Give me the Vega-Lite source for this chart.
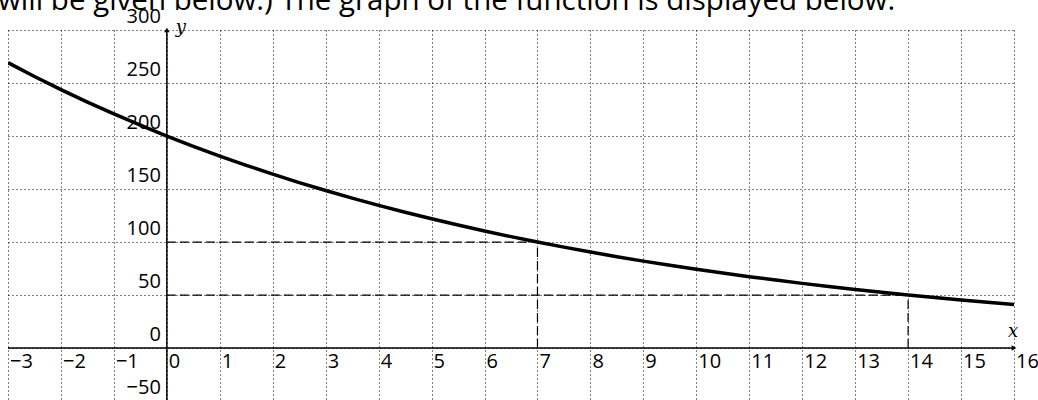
{
  "$schema": "https://vega.github.io/schema/vega-lite/v6.json",
  "width": 1006,
  "height": 370,
  "autosize": {"type": "none"},
  "padding": {"left": 8, "top": 30, "right": 24, "bottom": 0},
  "background": "white",
  "config": {"view": {"stroke": null}},
  "title": {
    "text": "will be given below.) The graph of the function is displayed below.",
    "anchor": "start",
    "frame": "group",
    "orient": "top",
    "baseline": "alphabetic",
    "offset": 0,
    "dx": -10,
    "dy": 32,
    "font": "Open Sans",
    "fontSize": 29.5,
    "fontWeight": "normal",
    "color": "#000"
  },
  "datasets": {
    "curve": [
      {"x": -3, "y": 269.2}, {"x": -2.5, "y": 256.2}, {"x": -2, "y": 243.8}, {"x": -1.5, "y": 232.0},
      {"x": -1, "y": 220.8}, {"x": -0.5, "y": 210.2}, {"x": 0, "y": 200}, {"x": 0.5, "y": 190.3},
      {"x": 1, "y": 181.1}, {"x": 1.5, "y": 172.4}, {"x": 2, "y": 164.1}, {"x": 2.5, "y": 156.1},
      {"x": 3, "y": 148.6}, {"x": 3.5, "y": 141.4}, {"x": 4, "y": 134.6}, {"x": 4.5, "y": 128.1},
      {"x": 5, "y": 121.9}, {"x": 5.5, "y": 116.0}, {"x": 6, "y": 110.4}, {"x": 6.5, "y": 105.1},
      {"x": 7, "y": 100}, {"x": 7.5, "y": 95.2}, {"x": 8, "y": 90.6}, {"x": 8.5, "y": 86.2},
      {"x": 9, "y": 82.0}, {"x": 9.5, "y": 78.1}, {"x": 10, "y": 74.3}, {"x": 10.5, "y": 70.7},
      {"x": 11, "y": 67.3}, {"x": 11.5, "y": 64.1}, {"x": 12, "y": 61.0}, {"x": 12.5, "y": 58.0},
      {"x": 13, "y": 55.2}, {"x": 13.5, "y": 52.6}, {"x": 14, "y": 50}, {"x": 14.5, "y": 47.6},
      {"x": 15, "y": 45.3}, {"x": 15.5, "y": 43.1}, {"x": 16, "y": 41.0}
    ],
    "dashes": [
      {"x1": 0, "x2": 7, "y1": 100, "y2": 100},
      {"x1": 7, "x2": 7, "y1": 0, "y2": 100},
      {"x1": 0, "x2": 14, "y1": 50, "y2": 50},
      {"x1": 14, "x2": 14, "y1": 0, "y2": 50}
    ],
    "axes": [
      {"x1": -3, "x2": 16, "y1": 0, "y2": 0},
      {"x1": 0, "x2": 0, "y1": -49, "y2": 300}
    ],
    "xlabels": [
      {"v": -3, "t": "−3"}, {"v": -2, "t": "−2"}, {"v": -1, "t": "−1"}, {"v": 0, "t": "0"},
      {"v": 1, "t": "1"}, {"v": 2, "t": "2"}, {"v": 3, "t": "3"}, {"v": 4, "t": "4"},
      {"v": 5, "t": "5"}, {"v": 6, "t": "6"}, {"v": 7, "t": "7"}, {"v": 8, "t": "8"},
      {"v": 9, "t": "9"}, {"v": 10, "t": "10"}, {"v": 11, "t": "11"}, {"v": 12, "t": "12"},
      {"v": 13, "t": "13"}, {"v": 14, "t": "14"}, {"v": 15, "t": "15"}, {"v": 16, "t": "16"}
    ],
    "ylabels": [
      {"v": -50, "t": "−50"}, {"v": 0, "t": "0"}, {"v": 50, "t": "50"}, {"v": 100, "t": "100"},
      {"v": 150, "t": "150"}, {"v": 200, "t": "200"}, {"v": 250, "t": "250"}, {"v": 300, "t": "300"}
    ],
    "arrows": [
      {"x": 0, "y": 300, "shape": "triangle-up"},
      {"x": 16, "y": 0, "shape": "triangle-right"}
    ],
    "xname": [{"x": 16, "y": 0, "n": "x"}],
    "yname": [{"x": 0, "y": 300, "n": "y"}]
  },
  "layer": [
    {
      "data": {"name": "curve"},
      "mark": {"type": "line", "color": "#000", "strokeWidth": 3.5, "clip": true},
      "encoding": {
        "x": {
          "field": "x", "type": "quantitative",
          "scale": {"domain": [-3, 16], "nice": false, "zero": false},
          "axis": {
            "values": [-3,-2,-1,0,1,2,3,4,5,6,7,8,9,10,11,12,13,14,15,16],
            "grid": true, "gridDash": [1, 3], "gridColor": "#000", "gridWidth": 1, "gridOpacity": 1,
            "labels": false, "ticks": false, "domain": false, "title": null
          }
        },
        "y": {
          "field": "y", "type": "quantitative",
          "scale": {"domain": [-49, 300], "nice": false, "zero": false},
          "axis": {
            "values": [0, 50, 100, 150, 200, 250, 300],
            "grid": true, "gridDash": [1, 3], "gridColor": "#000", "gridWidth": 1, "gridOpacity": 1,
            "labels": false, "ticks": false, "domain": false, "title": null
          }
        }
      }
    },
    {
      "data": {"name": "dashes"},
      "mark": {"type": "rule", "color": "#000", "strokeWidth": 1.2, "strokeDash": [9, 4]},
      "encoding": {
        "x": {"field": "x1", "type": "quantitative"},
        "x2": {"field": "x2"},
        "y": {"field": "y1", "type": "quantitative"},
        "y2": {"field": "y2"}
      }
    },
    {
      "data": {"name": "axes"},
      "mark": {"type": "rule", "color": "#000", "strokeWidth": 1.5},
      "encoding": {
        "x": {"field": "x1", "type": "quantitative"},
        "x2": {"field": "x2"},
        "y": {"field": "y1", "type": "quantitative"},
        "y2": {"field": "y2"}
      }
    },
    {
      "data": {"name": "arrows"},
      "mark": {"type": "point", "filled": true, "color": "#000", "size": 30, "opacity": 1},
      "encoding": {
        "x": {"field": "x", "type": "quantitative"},
        "y": {"field": "y", "type": "quantitative"},
        "shape": {"field": "shape", "type": "nominal", "scale": null}
      }
    },
    {
      "data": {"name": "xlabels"},
      "mark": {"type": "text", "align": "left", "baseline": "alphabetic", "dx": 2, "dy": 20, "font": "Open Sans", "fontSize": 20, "color": "#000"},
      "encoding": {
        "x": {"field": "v", "type": "quantitative"},
        "y": {"datum": 0, "type": "quantitative"},
        "text": {"field": "t"}
      }
    },
    {
      "data": {"name": "ylabels"},
      "mark": {"type": "text", "align": "right", "baseline": "alphabetic", "dx": -6, "dy": -7, "font": "Open Sans", "fontSize": 20, "color": "#000"},
      "encoding": {
        "x": {"datum": 0, "type": "quantitative"},
        "y": {"field": "v", "type": "quantitative"},
        "text": {"field": "t"}
      }
    },
    {
      "data": {"name": "xname"},
      "mark": {"type": "text", "font": "DejaVu Serif", "fontStyle": "italic", "fontSize": 18, "color": "#000", "baseline": "alphabetic", "align": "center", "dx": -1, "dy": -11},
      "encoding": {
        "x": {"field": "x", "type": "quantitative"},
        "y": {"field": "y", "type": "quantitative"},
        "text": {"field": "n"}
      }
    },
    {
      "data": {"name": "yname"},
      "mark": {"type": "text", "font": "DejaVu Serif", "fontStyle": "italic", "fontSize": 18, "color": "#000", "baseline": "alphabetic", "align": "left", "dx": 9, "dy": 3},
      "encoding": {
        "x": {"field": "x", "type": "quantitative"},
        "y": {"field": "y", "type": "quantitative"},
        "text": {"field": "n"}
      }
    }
  ]
}
